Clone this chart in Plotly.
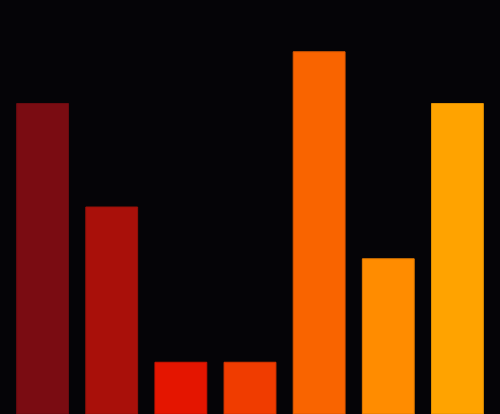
import plotly.graph_objects as go

categories = ["A", "B", "C", "D", "E", "F", "G"]
values = [6, 4, 1, 1, 7, 3, 6]
colors = ["#7a0c12", "#a9100a", "#e41500", "#f03c00", "#f96400", "#ff8c00", "#ffa300"]
edge_colors = ["#6a0a0f", "#951008", "#c81300", "#d63500", "#dc5800", "#e07a00", "#e08f00"]

fig = go.Figure(go.Bar(
    x=categories,
    y=values,
    marker=dict(color=colors, line=dict(color=edge_colors, width=1)),
    hoverinfo="skip",
))
fig.update_layout(
    width=500, height=414,
    paper_bgcolor="#050407",
    plot_bgcolor="#050407",
    margin=dict(l=8, r=8, t=0, b=0),
    bargap=0.25,
    showlegend=False,
    xaxis=dict(visible=False),
    yaxis=dict(visible=False, range=[0, 8]),
)
fig.write_html(
    "out.html",
    config={"displayModeBar": False, "staticPlot": True},
    post_script="document.body.style.margin='0';document.body.style.overflow='hidden';document.body.style.background='#050407';",
)
